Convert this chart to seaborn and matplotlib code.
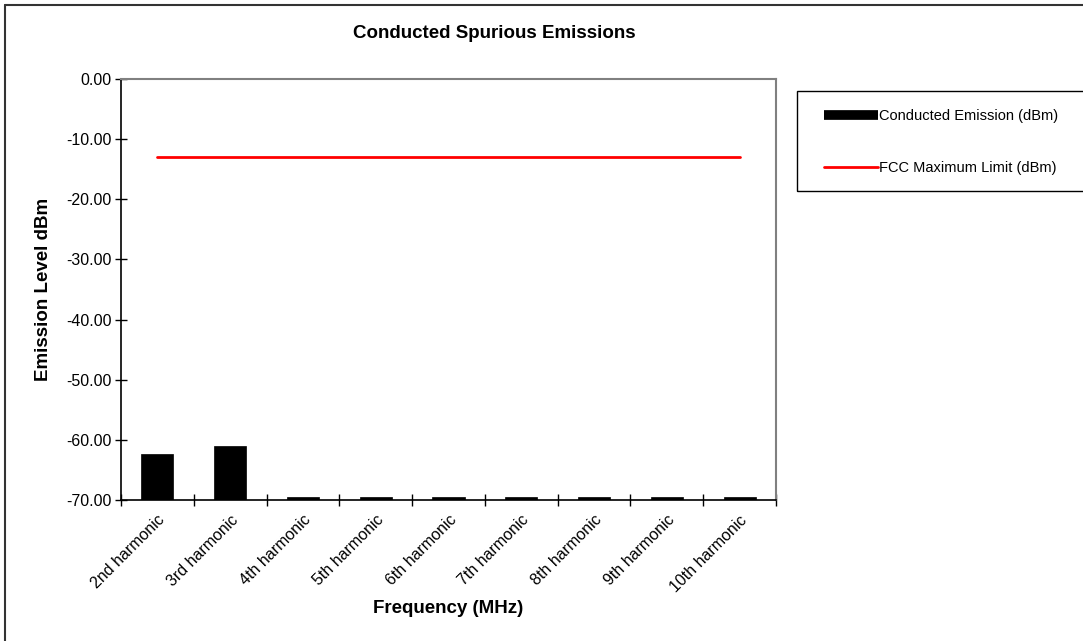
import numpy as np
import pandas as pd
import seaborn as sns
import matplotlib.pyplot as plt
from matplotlib.lines import Line2D
from matplotlib.patches import Rectangle

# Chart values
harmonics = ['2nd harmonic', '3rd harmonic', '4th harmonic', '5th harmonic', '6th harmonic',
             '7th harmonic', '8th harmonic', '9th harmonic', '10th harmonic']
emission_dbm = [-62.4, -61.1, -69.5, -69.5, -69.5, -69.5, -69.5, -69.5, -69.5]
fcc_limit_dbm = [-13.0] * 9
y_floor = -70.0

data = pd.DataFrame({'Harmonic': harmonics, 'Emission': emission_dbm, 'Limit': fcc_limit_dbm})
# bars grow up from the bottom of the axis
data['Height'] = data['Emission'] - y_floor

sns.set_theme(style="white")
plt.rcParams['font.family'] = ['Liberation Sans', 'DejaVu Sans']
plt.rcParams['text.color'] = 'black'
plt.rcParams['axes.labelcolor'] = 'black'
plt.rcParams['xtick.color'] = 'black'
plt.rcParams['ytick.color'] = 'black'

fig = plt.figure(figsize=(10.83, 6.41), dpi=100)
ax = fig.add_axes([121 / 1083, 1 - 500 / 641, 655 / 1083, 421 / 641])

sns.barplot(data=data, x='Harmonic', y='Height', bottom=y_floor, color='black',
            width=0.44, edgecolor='black', linewidth=0.5, ax=ax)
sns.lineplot(data=data, x='Harmonic', y='Limit', color='#ff0000', linewidth=2, ax=ax)

ax.set_xlim(-0.5, len(harmonics) - 0.5)
ax.set_ylim(-70, 0)
ax.set_yticks(np.arange(-70, 1, 10))
ax.set_yticklabels([f'{v:.2f}' for v in np.arange(-70, 1, 10)], fontsize=11.5)
ax.set_xticks(np.arange(-0.5, len(harmonics), 1), minor=False)
ax.set_xticklabels([])
ax.set_xticks(np.arange(len(harmonics)), minor=True)
ax.set_xticklabels(harmonics, minor=True, rotation=45, ha='right', rotation_mode='anchor', fontsize=11.5)
ax.tick_params(axis='x', which='minor', length=0, pad=9, bottom=True)
ax.tick_params(axis='both', which='major', direction='inout', length=8, width=1,
               color='black', bottom=True, left=True)
ax.tick_params(axis='y', pad=3)

for side in ['left', 'bottom']:
    ax.spines[side].set_color('black')
    ax.spines[side].set_linewidth(1.2)
for side in ['top', 'right']:
    ax.spines[side].set_color('#808080')
    ax.spines[side].set_linewidth(1.5)

ax.set_xlabel('Frequency (MHz)', fontsize=13.5, fontweight='bold', labelpad=4)
ax.set_ylabel('Emission Level dBm', fontsize=13.5, fontweight='bold', labelpad=10)
fig.text(494 / 1083, 1 - 33 / 641, 'Conducted Spurious Emissions', fontsize=13.5,
         fontweight='bold', ha='center', va='center')

# outer chart border (left and top edges visible)
fig.add_artist(Line2D([5 / 1083, 5 / 1083], [0, 1 - 5 / 641], color='#333333', linewidth=1.5))
fig.add_artist(Line2D([5 / 1083, 1], [1 - 5 / 641, 1 - 5 / 641], color='#333333', linewidth=1.5))

# legend box
fig.add_artist(Rectangle((797 / 1083, 1 - 191 / 641), 300 / 1083, 100 / 641, fill=False,
                         edgecolor='black', linewidth=1, transform=fig.transFigure))
handles = [Line2D([], [], color='black', linewidth=7, solid_capstyle='butt'),
           Line2D([], [], color='#ff0000', linewidth=2)]
fig.legend(handles, ['Conducted Emission (dBm)', 'FCC Maximum Limit (dBm)'],
           loc='upper left', bbox_to_anchor=(824 / 1083, 1 - 109 / 641), frameon=False,
           fontsize=10.5, handlelength=3.7, handletextpad=0.1, labelspacing=2.6,
           borderpad=0, borderaxespad=0)

plt.savefig('out.png', dpi=100)
